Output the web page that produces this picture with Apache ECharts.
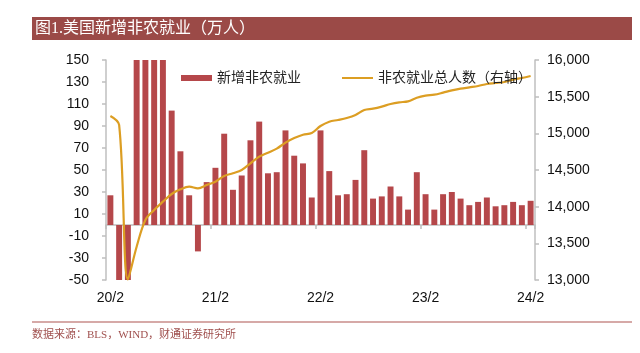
<!DOCTYPE html>
<html>
<head>
<meta charset="utf-8">
<script src="https://cdn.jsdelivr.net/npm/echarts@6/dist/echarts.min.js"></script>
<style>
html,body{margin:0;padding:0;background:#fff;}
#chart{width:640px;height:353px;}
</style>
</head>
<body>
<div id="chart"></div>
<script>
const categories = ['20/2','20/3','20/4','20/5','20/6','20/7','20/8','20/9','20/10','20/11','20/12',
  '21/1','21/2','21/3','21/4','21/5','21/6','21/7','21/8','21/9','21/10','21/11','21/12',
  '22/1','22/2','22/3','22/4','22/5','22/6','22/7','22/8','22/9','22/10','22/11','22/12',
  '23/1','23/2','23/3','23/4','23/5','23/6','23/7','23/8','23/9','23/10','23/11','23/12',
  '24/1','24/2'];
const newJobs = [27,-137,-2050,270,450,170,160,104,67,27,-24,
  39,52,83,32,45,77,94,47,48,86,63,56,
  25,86,49,27,28,41,68,24,26,35,26,14,
  48,28,14,28,30,24,18,21,25,17,18,21,
  18,22];
const totalJobs = [15236,15114,13009,13454,13818,13955,14068,14173,14236,14273,14250,
  14295,14341,14418,14455,14500,14591,14682,14736,14791,14873,14936,14981,
  15005,15100,15159,15182,15209,15250,15318,15336,15364,15400,15423,15436,
  15486,15514,15527,15555,15586,15609,15627,15645,15673,15686,15700,15732,
  15755,15782];
const leftTicks = {min:-50, max:150, interval:20};
const rightTicks = {min:13000, max:16000, interval:500};
const titleText = '图1.美国新增非农就业（万人）';
const sourceText = '数据来源：BLS，WIND，财通证券研究所';
const barName = '新增非农就业';
const lineName = '非农就业总人数（右轴）';

const serif = '"Liberation Serif","Noto Sans CJK SC",serif';
const sans = '"Liberation Sans",Arial,sans-serif';
const axisColor = '#BFBFBF';

const chart = echarts.init(document.getElementById('chart'), null, {renderer:'canvas'});
chart.setOption({
  animation:false,
  backgroundColor:'#fff',
  grid:{left:106, right:105, top:60, bottom:73, containLabel:false, outerBoundsMode:'none'},
  graphic:[
    {type:'rect', shape:{x:32, y:17, width:600, height:23}, style:{fill:'#9B4A47'}},
    {type:'text', x:35, y:28.5, style:{text:titleText, fill:'#fff', font:'16px '+serif, textVerticalAlign:'middle'}},
    {type:'line', shape:{x1:32, y1:322, x2:632, y2:322}, style:{stroke:'#D6A9A7', lineWidth:2}},
    {type:'text', x:32, y:335, style:{text:sourceText, fill:'#A0504E', font:'11px '+serif, textVerticalAlign:'middle'}}
  ],
  legend:[
    {data:[barName], left:176, top:66, icon:'rect', itemWidth:31, itemHeight:6,
     textStyle:{fontFamily:serif, fontSize:14, color:'#222'}},
    {data:[lineName], left:337, top:66, icon:'rect', itemWidth:31, itemHeight:2,
     textStyle:{fontFamily:serif, fontSize:14, color:'#222'}}
  ],
  xAxis:[
    {type:'category', data:categories, position:'bottom', boundaryGap:true,
     axisLine:{show:true, onZero:true, onZeroAxisIndex:0, lineStyle:{color:axisColor, width:1.5}},
     axisTick:{show:true, interval:11, length:4, lineStyle:{color:axisColor, width:1.5}},
     axisLabel:{show:false}, splitLine:{show:false}},
    {type:'category', data:categories, position:'bottom', boundaryGap:true,
     axisLine:{show:false, onZero:false}, axisTick:{show:false},
     axisLabel:{show:true, interval:11, margin:11, fontFamily:sans, fontSize:14, color:'#111'},
     splitLine:{show:false}}
  ],
  yAxis:[
    {type:'value', min:leftTicks.min, max:leftTicks.max, interval:leftTicks.interval, position:'left',
     axisLine:{show:true, lineStyle:{color:axisColor, width:1.5}},
     axisTick:{show:true, length:4, lineStyle:{color:axisColor, width:1.5}},
     axisLabel:{margin:17, fontFamily:sans, fontSize:14, color:'#111'},
     splitLine:{show:false}},
    {type:'value', min:rightTicks.min, max:rightTicks.max, interval:rightTicks.interval, position:'right',
     axisLine:{show:true, lineStyle:{color:axisColor, width:1.5}},
     axisTick:{show:true, length:4, lineStyle:{color:axisColor, width:1.5}},
     axisLabel:{margin:12, fontFamily:sans, fontSize:14, color:'#111'},
     splitLine:{show:false}}
  ],
  series:[
    {name:barName, type:'bar', xAxisIndex:0, yAxisIndex:0, data:newJobs, barCategoryGap:'32%',
     itemStyle:{color:'#B5474A'}, clip:true},
    {name:lineName, type:'line', xAxisIndex:0, yAxisIndex:1, data:totalJobs, smooth:0.35,
     symbol:'none', lineStyle:{color:'#DC9E23', width:2.2}, itemStyle:{color:'#DC9E23'}, z:3}
  ]
});
</script>
</body>
</html>
